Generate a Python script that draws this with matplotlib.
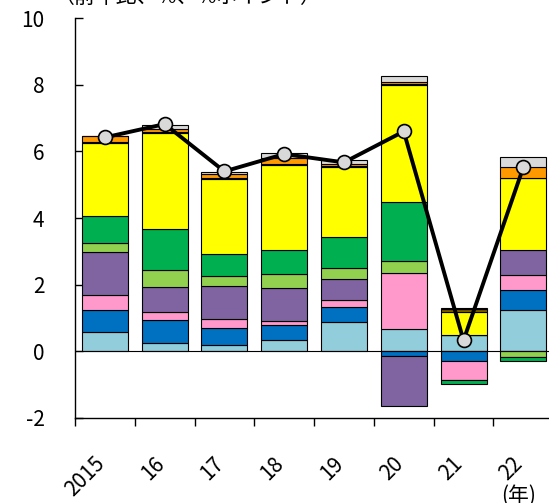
import numpy as np
import matplotlib
matplotlib.use("Agg")
import matplotlib.pyplot as plt
import matplotlib.transforms as mtransforms

plt.rcParams["font.family"] = ["Noto Sans CJK JP", "DejaVu Sans"]
plt.rcParams["axes.unicode_minus"] = False

# データ（前年比、%、%ポイント）
years = ["2015", "16", "17", "18", "19", "20", "21", "22"]
light_blue = [0.57, 0.26, 0.18, 0.35, 0.87, 0.66, 0.49, 1.25]
blue = [0.66, 0.69, 0.53, 0.44, 0.46, -0.13, -0.30, 0.59]
pink = [0.45, 0.23, 0.27, 0.12, 0.22, 1.68, -0.55, 0.45]
purple = [1.30, 0.76, 0.97, 0.99, 0.61, -1.52, 0.0, 0.76]
light_green = [0.27, 0.50, 0.30, 0.42, 0.35, 0.38, 0.0, -0.17]
green = [0.80, 1.24, 0.68, 0.72, 0.93, 1.75, -0.12, -0.13]
yellow = [2.19, 2.86, 2.24, 2.55, 2.08, 3.53, 0.70, 2.16]
brown = [0.03, 0.04, 0.03, 0.02, 0.03, 0.03, 0.08, 0.0]
orange = [0.20, 0.08, 0.12, 0.20, 0.08, 0.05, 0.0, 0.32]
gray = [0.0, 0.12, 0.05, 0.13, 0.12, 0.18, 0.04, 0.30]
total = [6.42, 6.82, 5.40, 5.92, 5.67, 6.60, 0.33, 5.52]

series = [light_blue, blue, pink, purple, light_green, green, yellow, brown, orange, gray]
colors = ["#92CDDC", "#0070C0", "#FF99CC", "#8064A2", "#92D050",
          "#00B050", "#FFFF00", "#7F5F00", "#FF9900", "#D9D9D9"]

fig = plt.figure(figsize=(5.49, 5.03), dpi=100)
ax = fig.add_axes([0.1366, 0.169, 0.871, 0.795])

x = np.arange(len(years))
pos_base = np.zeros(len(years))
neg_base = np.zeros(len(years))
for vals, c in zip(series, colors):
    v = np.array(vals)
    bottom = np.where(v >= 0, pos_base, neg_base)
    ax.bar(x, v, bottom=bottom, width=0.77, color=c, edgecolor="black",
           linewidth=0.8, zorder=2)
    pos_base += np.where(v > 0, v, 0)
    neg_base += np.where(v < 0, v, 0)

ax.plot(x, total, color="black", linewidth=2.8, marker="o", markersize=10,
        markerfacecolor="#D9D9D9", markeredgecolor="black",
        markeredgewidth=1.2, zorder=4)

ax.axhline(0, color="black", linewidth=0.8, zorder=3)

ax.set_xlim(-0.5, 7.5)
ax.set_ylim(-2, 10)
ax.set_yticks(np.arange(-2, 11, 2))
ax.tick_params(axis="y", direction="in", length=6, width=1,
               labelsize=15, pad=22)
ax.set_xticks(x)
ax.set_xticklabels(years, rotation=45, ha="right", va="top", fontsize=15)
ax.set_xticks(np.arange(-0.5, 8, 1), minor=True)
ax.tick_params(axis="x", which="major", length=0, pad=25)
ax.tick_params(axis="x", which="minor", direction="out", length=6, width=1)

# 目盛りラベルを少し右へ
offset = mtransforms.ScaledTranslation(4 / 100, 0, fig.dpi_scale_trans)
for lbl in ax.get_xticklabels():
    lbl.set_transform(lbl.get_transform() + offset)

for s in ["top", "right"]:
    ax.spines[s].set_visible(False)
for s in ["left", "bottom"]:
    ax.spines[s].set_linewidth(1)

fig.text(54 / 549, 1 - 9 / 503, "（前年比、%、%ポイント）", fontsize=15,
         ha="left", va="bottom")
fig.text(519 / 549, 1 - 496 / 503, "(年)", fontsize=15, ha="center",
         va="center")

fig.savefig("out.png", dpi=100)
